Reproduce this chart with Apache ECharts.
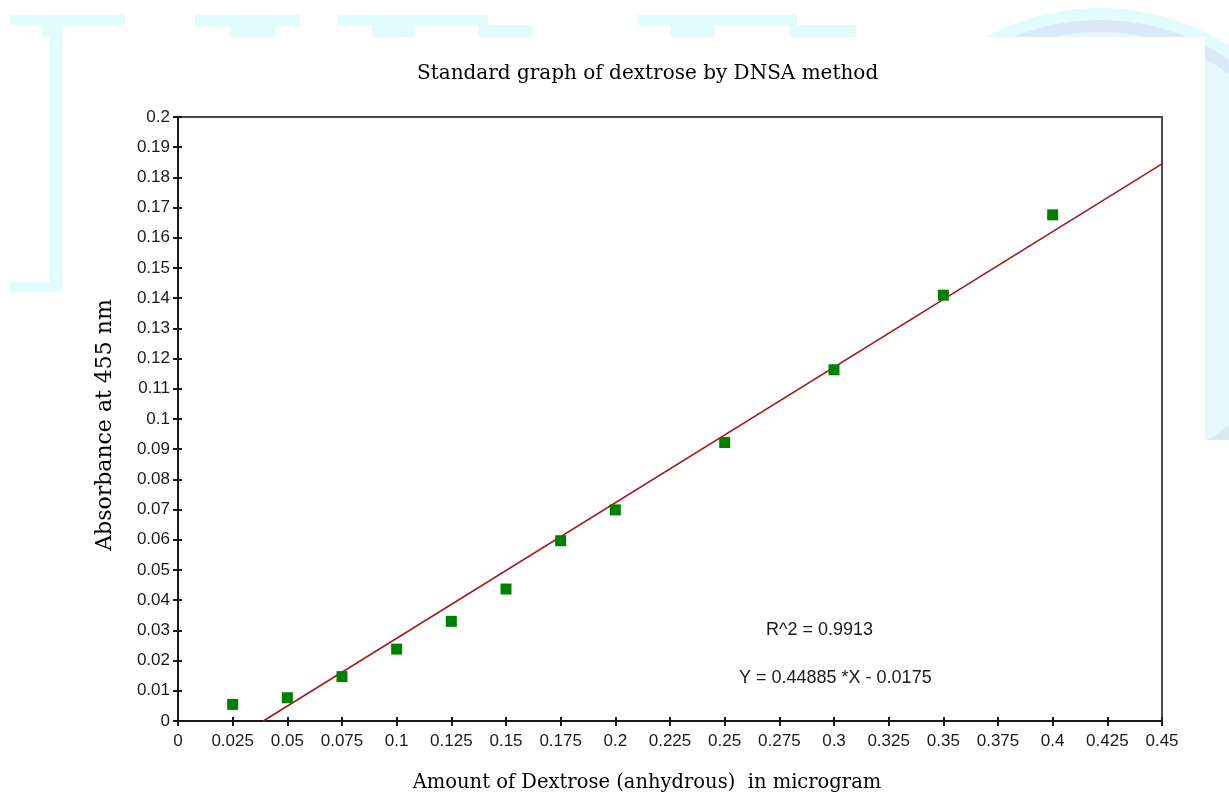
<!DOCTYPE html>
<html>
<head>
<meta charset="utf-8">
<title>Standard graph of dextrose by DNSA method</title>
<script src="https://cdn.jsdelivr.net/npm/echarts@6/dist/echarts.min.js"></script>
<style>
  html, body { margin: 0; padding: 0; background: #ffffff; }
  #chart { width: 1229px; height: 796px; }
</style>
</head>
<body>
<div id="chart"></div>
<script>
// Dextrose standard: amount (microgram) vs absorbance at 455 nm
const dextroseAmount = [0.025, 0.05, 0.075, 0.1, 0.125, 0.15, 0.175, 0.2, 0.25, 0.3, 0.35, 0.4];
const absorbance     = [0.0055, 0.0077, 0.0147, 0.0238, 0.0330, 0.0437, 0.0597, 0.0699, 0.0922, 0.1163, 0.1410, 0.1676];

// Linear fit as stated on the chart
const fitSlope = 0.44885;
const fitIntercept = -0.0175;
const rSquared = 0.9913;

// Axis ranges and steps
const xRange = { min: 0, max: 0.45, step: 0.025 };
const yRange = { min: 0, max: 0.2, step: 0.01 };

const fitStartX = -fitIntercept / fitSlope;   // where the fit crosses zero
const fitLine = [fitStartX, xRange.max].map(x => [x, fitSlope * x + fitIntercept]);
const points = dextroseAmount.map((x, i) => [x, absorbance[i]]);

const tickFmt = v => String(+v.toFixed(4));
const sans = 'Liberation Sans, Arial, sans-serif';
const serif = 'DejaVu Serif, Liberation Serif, serif';
const ink = '#1a1a1a';

// Pale letterhead shapes around the white sheet
const wmCyan = '#e2fcfd';
const wmBlue = '#dbe9f6';
const watermark = [
  { type: 'circle', shape: { cx: 1100, cy: 250, r: 242 }, style: { fill: wmCyan } },
  { type: 'circle', shape: { cx: 1100, cy: 250, r: 230 }, style: { fill: wmBlue } },
  { type: 'circle', shape: { cx: 1100, cy: 250, r: 218 }, style: { fill: '#e8f7fb' } },
  { type: 'rect', shape: { x: 10, y: 15, width: 115, height: 10 }, style: { fill: wmCyan } },
  { type: 'rect', shape: { x: 42, y: 15, width: 20, height: 22 }, style: { fill: wmCyan } },
  { type: 'rect', shape: { x: 50, y: 15, width: 12, height: 277 }, style: { fill: wmCyan } },
  { type: 'rect', shape: { x: 10, y: 282, width: 52, height: 10 }, style: { fill: wmCyan } },
  { type: 'rect', shape: { x: 195, y: 15, width: 105, height: 12 }, style: { fill: wmCyan } },
  { type: 'rect', shape: { x: 230, y: 25, width: 45, height: 12 }, style: { fill: wmCyan } },
  { type: 'rect', shape: { x: 338, y: 15, width: 150, height: 10 }, style: { fill: wmCyan } },
  { type: 'rect', shape: { x: 372, y: 22, width: 42, height: 15 }, style: { fill: wmCyan } },
  { type: 'rect', shape: { x: 478, y: 25, width: 54, height: 12 }, style: { fill: wmCyan } },
  { type: 'rect', shape: { x: 637, y: 15, width: 160, height: 10 }, style: { fill: wmCyan } },
  { type: 'rect', shape: { x: 670, y: 22, width: 45, height: 15 }, style: { fill: wmCyan } },
  { type: 'rect', shape: { x: 790, y: 25, width: 66, height: 12 }, style: { fill: wmCyan } },
  { type: 'rect', shape: { x: 62, y: 37, width: 1143, height: 759 }, style: { fill: '#ffffff' } },
  { type: 'rect', shape: { x: 0, y: 292, width: 62, height: 504 }, style: { fill: '#ffffff' } },
  { type: 'rect', shape: { x: 1205, y: 440, width: 24, height: 356 }, style: { fill: '#ffffff' } }
].map(e => Object.assign(e, { silent: true, z: -10 }));

const chart = echarts.init(document.getElementById('chart'), null, { renderer: 'canvas' });

chart.setOption({
  animation: false,
  backgroundColor: 'transparent',
  title: {
    text: 'Standard graph of dextrose by DNSA method',
    left: 412,
    top: 59,
    textStyle: { fontFamily: serif, fontSize: 20, fontWeight: 'normal', color: '#000' }
  },
  grid: {
    left: 178, right: 67, top: 117, bottom: 75,
    outerBoundsMode: 'none',
    show: true, borderColor: '#4a4a4a', borderWidth: 2, backgroundColor: 'transparent'
  },
  xAxis: [{
    type: 'value', min: xRange.min, max: xRange.max, interval: xRange.step,
    name: 'Amount of Dextrose (anhydrous)  in microgram',
    nameLocation: 'middle', nameGap: 52,
    nameTextStyle: { fontFamily: serif, fontSize: 19.5, color: '#000', padding: [0, 46, 0, 0] },
    axisLine: { show: true, lineStyle: { color: ink, width: 2 } },
    axisTick: { show: true, length: 5, lineStyle: { color: ink, width: 2 } },
    axisLabel: { fontFamily: sans, fontSize: 17, color: ink, margin: 12, formatter: tickFmt },
    splitLine: { show: false }
  }, {
    type: 'value', min: xRange.min, max: xRange.max, interval: xRange.step, position: 'bottom',
    axisLine: { show: false },
    axisTick: { show: true, inside: true, length: 4, lineStyle: { color: ink, width: 2 } },
    axisLabel: { show: false }, splitLine: { show: false }
  }],
  yAxis: [{
    type: 'value', min: yRange.min, max: yRange.max, interval: yRange.step,
    name: 'Absorbance at 455 nm',
    nameLocation: 'middle', nameGap: 62,
    nameTextStyle: { fontFamily: serif, fontSize: 22, color: '#000', padding: [0, 12, 0, 0] },
    axisLine: { show: true, lineStyle: { color: ink, width: 2 } },
    axisTick: { show: true, length: 5, lineStyle: { color: ink, width: 2 } },
    axisLabel: { fontFamily: sans, fontSize: 17, color: ink, margin: 8, formatter: tickFmt },
    splitLine: { show: false }
  }, {
    type: 'value', min: yRange.min, max: yRange.max, interval: yRange.step, position: 'left',
    axisLine: { show: false },
    axisTick: { show: true, inside: true, length: 4, lineStyle: { color: ink, width: 2 } },
    axisLabel: { show: false }, splitLine: { show: false }
  }],
  series: [{
    name: 'Linear fit',
    type: 'line',
    data: fitLine,
    showSymbol: false,
    symbol: 'none',
    lineStyle: { color: '#a01818', width: 1.5 },
    z: 3
  }, {
    name: 'Absorbance',
    type: 'scatter',
    data: points,
    symbol: 'rect',
    symbolSize: 11,
    itemStyle: { color: '#008000', opacity: 1 },
    z: 4
  }],
  graphic: watermark.concat([
    {
      type: 'text', left: 766, top: 621, z: 10,
      style: { text: 'R^2 = ' + rSquared, font: '18px ' + sans, fill: ink }
    },
    {
      type: 'text', left: 739, top: 669, z: 10,
      style: { text: 'Y = ' + fitSlope + ' *X - ' + Math.abs(fitIntercept), font: '18px ' + sans, fill: ink }
    }
  ])
});
</script>
</body>
</html>
